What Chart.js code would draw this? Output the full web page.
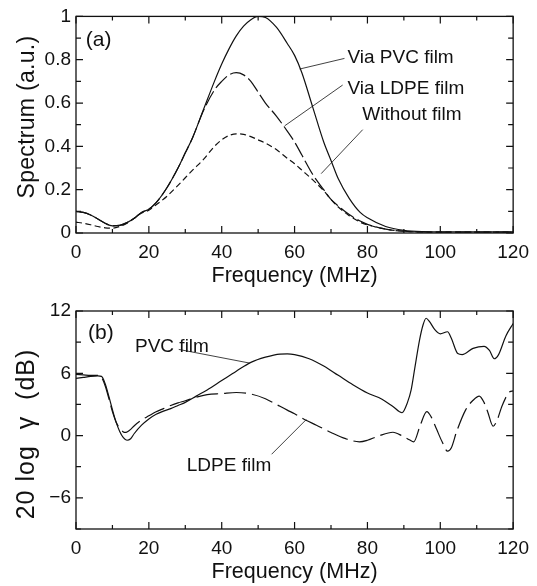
<!DOCTYPE html>
<html>
<head>
<meta charset="utf-8">
<script src="https://cdn.jsdelivr.net/npm/chart.js@4.4.1/dist/chart.umd.min.js"></script>
<style>
  html, body { margin: 0; padding: 0; background: #fff; }
  #wrap { position: relative; width: 537px; height: 586px; }
  canvas { position: absolute; left: 0; }
  #cA { top: 0; }
  #cB { top: 290px; }
</style>
</head>
<body>
<div id="wrap">
  <canvas id="cA" width="537" height="290"></canvas>
  <canvas id="cB" width="537" height="296"></canvas>
</div>
<script>
// Panel (a): spectrum
const freqA   = [0, 2, 4, 6, 8, 10, 12, 14, 16, 18, 20, 22, 25, 28, 30, 32, 35, 38, 40, 42, 44, 46, 48, 50, 52, 55, 58, 60, 62, 65, 68, 70, 72, 75, 78, 80, 85, 90, 95, 100, 110, 120];
const pvcA    = [0.10, 0.095, 0.083, 0.065, 0.045, 0.033, 0.035, 0.048, 0.068, 0.095, 0.11, 0.14, 0.21, 0.30, 0.37, 0.44, 0.57, 0.70, 0.78, 0.85, 0.91, 0.955, 0.985, 1.0, 0.995, 0.95, 0.875, 0.82, 0.74, 0.58, 0.42, 0.335, 0.25, 0.16, 0.095, 0.07, 0.03, 0.012, 0.006, 0.005, 0.005, 0.005];
const ldpeA   = [0.10, 0.095, 0.083, 0.065, 0.045, 0.033, 0.035, 0.048, 0.068, 0.095, 0.11, 0.14, 0.21, 0.30, 0.37, 0.44, 0.565, 0.66, 0.70, 0.73, 0.74, 0.73, 0.70, 0.65, 0.60, 0.54, 0.47, 0.42, 0.36, 0.27, 0.20, 0.155, 0.125, 0.085, 0.055, 0.04, 0.018, 0.008, 0.005, 0.004, 0.004, 0.004];
const noFilmA = [0.05, 0.045, 0.038, 0.030, 0.024, 0.022, 0.03, 0.045, 0.068, 0.092, 0.105, 0.13, 0.17, 0.22, 0.255, 0.29, 0.34, 0.40, 0.43, 0.45, 0.458, 0.455, 0.445, 0.43, 0.415, 0.385, 0.345, 0.32, 0.29, 0.245, 0.195, 0.155, 0.12, 0.08, 0.05, 0.038, 0.018, 0.008, 0.005, 0.004, 0.004, 0.004];

// Panel (b): 20 log gamma (dB)
const freqPvcB  = [0, 2, 4, 6, 7, 8, 9, 10, 11, 12, 13, 14, 15, 16, 18, 20, 22, 24, 26, 28, 30, 33, 36, 40, 44, 48, 52, 56, 58, 60, 64, 68, 72, 76, 80, 84, 87, 89.5, 91, 92, 93, 94.3, 95.3, 96.1, 97, 98.5, 100, 102, 103, 104.8, 106, 109, 112, 113.5, 114.8, 116, 118, 120];
const pvcB      = [5.5, 5.6, 5.7, 5.75, 5.7, 5.0, 3.8, 2.5, 1.3, 0.4, -0.2, -0.45, -0.3, 0.2, 1.0, 1.6, 2.05, 2.35, 2.6, 2.9, 3.2, 3.8, 4.4, 5.3, 6.2, 7.05, 7.55, 7.85, 7.87, 7.8, 7.4, 6.7, 5.8, 4.9, 4.1, 3.5, 2.8, 2.2, 3.2, 4.4, 6.5, 9.2, 10.7, 11.3, 11.0, 10.2, 9.8, 10.0, 9.4, 7.9, 7.8, 8.4, 8.6, 8.2, 7.4, 7.8, 9.6, 10.8];
const freqLdpeB = [0, 2, 4, 6, 7, 8, 9, 10, 11, 12, 13, 13.5, 14, 15, 16, 18, 20, 22, 24, 26, 28, 30, 33, 36, 40, 44, 48, 52, 55, 58, 60, 63, 66, 70, 74, 77.8, 80, 83, 87, 89.7, 91.5, 92.7, 94.5, 96.3, 97.5, 99, 100.5, 102, 103, 104.5, 107, 109, 110.7, 112, 113, 114.5, 115.5, 117, 119, 120];
const ldpeB     = [5.9, 5.85, 5.8, 5.8, 5.6, 4.8, 3.6, 2.3, 1.3, 0.7, 0.35, 0.3, 0.35, 0.6, 0.95, 1.5, 1.9, 2.3, 2.6, 2.9, 3.15, 3.35, 3.7, 3.95, 4.05, 4.15, 4.0, 3.55, 3.0, 2.45, 2.1, 1.5, 1.0, 0.3, -0.3, -0.6, -0.45, -0.05, 0.32, -0.06, -0.4, -0.6, 1.0, 2.3, 1.8, 0.6, -0.6, -1.5, -1.2, 0.4, 2.5, 3.4, 3.8, 3.2, 2.3, 0.9, 1.4, 2.9, 4.2, 4.3];

// tick labels
const xTicks  = [0, 20, 40, 60, 80, 100, 120];
const yTicksA = [0, 0.2, 0.4, 0.6, 0.8, 1];
const yTicksB = [-6, 0, 6, 12];

const FONT = "'Liberation Sans', Arial, Helvetica, sans-serif";

const pts = (xs, ys) => xs.map((f, i) => ({ x: f, y: ys[i] }));

function line(data, dash) {
    return {
        data: data,
        borderColor: '#111',
        borderWidth: 1.2,
        borderDash: dash,
        pointRadius: 0,
        fill: false,
        cubicInterpolationMode: 'monotone'
    };
}

// box, inward ticks on four sides, y title, labels and leader lines
const framePlugin = {
    id: 'frame',
    afterDraw(chart, args, o) {
        const { ctx, chartArea: a, scales: { x, y } } = chart;
        ctx.save();
        ctx.strokeStyle = '#111';
        ctx.lineWidth = 1.3;
        ctx.strokeRect(a.left, a.top, a.right - a.left, a.bottom - a.top);

        ctx.lineWidth = 1.2;
        ctx.beginPath();
        for (let i = 0; i <= o.xCount; i++) {
            const v = x.min + i * o.xStep;
            const px = x.getPixelForValue(v);
            const len = i % 2 === 0 ? 7 : 4;
            ctx.moveTo(px, a.bottom); ctx.lineTo(px, a.bottom - len);
            ctx.moveTo(px, a.top); ctx.lineTo(px, a.top + len);
        }
        for (let i = 0; i <= o.yCount; i++) {
            const v = y.min + i * o.yStep;
            const py = y.getPixelForValue(v);
            const len = o.yMajor(i) ? 7 : 5;
            ctx.moveTo(a.left, py); ctx.lineTo(a.left + len, py);
            ctx.moveTo(a.right, py); ctx.lineTo(a.right - len, py);
        }
        ctx.stroke();

        // y axis title
        ctx.fillStyle = '#111';
        ctx.font = o.yTitle.size + 'px ' + FONT;
        ctx.letterSpacing = o.yTitle.spacing + 'px';
        ctx.translate(o.yTitle.x, o.yTitle.y);
        ctx.rotate(-Math.PI / 2);
        ctx.textAlign = 'center';
        ctx.textBaseline = 'alphabetic';
        ctx.fillText(o.yTitle.text, 0, 0);
        ctx.setTransform(1, 0, 0, 1, 0, 0);
        ctx.letterSpacing = '0px';

        // labels
        ctx.textAlign = 'left';
        ctx.textBaseline = 'middle';
        o.labels.forEach(l => {
            ctx.font = l.size + 'px ' + FONT;
            ctx.fillText(l.text, x.getPixelForValue(l.x), y.getPixelForValue(l.y));
        });
        ctx.lineWidth = 0.8;
        ctx.beginPath();
        o.leaders.forEach(s => {
            ctx.moveTo(x.getPixelForValue(s[0]), y.getPixelForValue(s[1]));
            ctx.lineTo(x.getPixelForValue(s[2]), y.getPixelForValue(s[3]));
        });
        ctx.stroke();
        ctx.restore();
    }
};

function options(yMin, yMax, yTicks, padTop, frame) {
    return {
        responsive: false,
        animation: false,
        layout: { padding: { left: 0, right: 23, top: padTop, bottom: 0 } },
        plugins: { legend: { display: false }, tooltip: { enabled: false }, frame: frame },
        scales: {
            x: {
                type: 'linear', min: 0, max: 120,
                afterBuildTicks: s => { s.ticks = xTicks.map(v => ({ value: v })); },
                afterFit: s => { s.height = 57; },
                grid: { display: false, drawTicks: false },
                border: { display: false },
                ticks: { font: { family: FONT, size: 19 }, color: '#111', padding: 8, maxRotation: 0, autoSkip: false },
                title: { display: true, text: 'Frequency (MHz)', color: '#111', font: { family: FONT, size: 21.5 }, padding: { top: 0, bottom: 1 } }
            },
            y: {
                type: 'linear', min: yMin, max: yMax,
                afterBuildTicks: s => { s.ticks = yTicks.map(v => ({ value: v })); },
                afterFit: s => { s.width = 76; },
                grid: { display: false, drawTicks: false },
                border: { display: false },
                ticks: {
                    font: { family: FONT, size: 19 }, color: '#111', padding: 5, autoSkip: false,
                    callback: v => v < 0 ? '\u2212' + (-v) : String(v)
                }
            }
        }
    };
}

new Chart(document.getElementById('cA'), {
    type: 'line',
    data: {
        datasets: [
            line(pts(freqA, pvcA), []),
            line(pts(freqA, ldpeA), [16, 4]),
            line(pts(freqA, noFilmA), [6, 3.5])
        ]
    },
    options: options(0, 1, yTicksA, 15, {
        xStep: 10, xCount: 12, yStep: 0.1, yCount: 10, yMajor: i => i % 2 === 0,
        yTitle: { text: 'Spectrum (a.u.)', size: 23, spacing: 0.3, x: 34, y: 117 },
        labels: [
            { text: '(a)', x: 2.7, y: 0.89, size: 21 },
            { text: 'Via PVC film', x: 74.5, y: 0.81, size: 19 },
            { text: 'Via LDPE film', x: 74.5, y: 0.667, size: 19 },
            { text: 'Without film', x: 78.6, y: 0.544, size: 19 }
        ],
        leaders: [
            [61.4, 0.757, 73.7, 0.806],
            [57.3, 0.495, 73.2, 0.683],
            [67.3, 0.274, 78.7, 0.477]
        ]
    }),
    plugins: [framePlugin]
});

new Chart(document.getElementById('cB'), {
    type: 'line',
    data: {
        datasets: [
            line(pts(freqPvcB, pvcB), []),
            line(pts(freqLdpeB, ldpeB), [22, 6])
        ]
    },
    options: options(-9, 12, yTicksB, 21, {
        xStep: 10, xCount: 12, yStep: 3, yCount: 7, yMajor: i => (i + 1) % 2 === 0,
        yTitle: { text: '20 log  \u03B3  (dB)', size: 25, spacing: 1, x: 34, y: 144 },
        labels: [
            { text: '(b)', x: 3.3, y: 9.9, size: 21 },
            { text: 'PVC film', x: 16.2, y: 8.6, size: 19 },
            { text: 'LDPE film', x: 30.4, y: -2.9, size: 19 }
        ],
        leaders: [
            [28.2, 8.3, 47.7, 6.98],
            [53.7, -1.8, 63.2, 1.54]
        ]
    }),
    plugins: [framePlugin]
});
</script>
</body>
</html>
